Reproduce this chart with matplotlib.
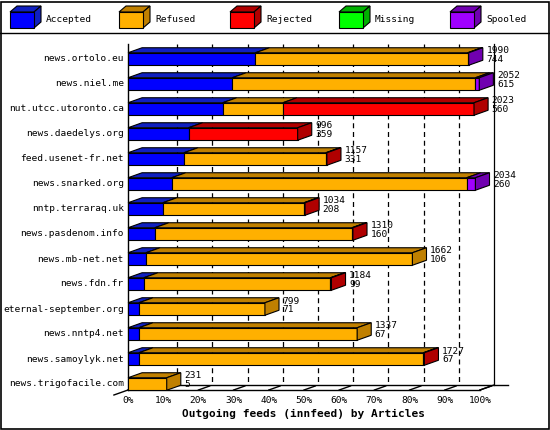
import matplotlib.pyplot as plt
from matplotlib.patches import Polygon, Rectangle

hosts = ["news.ortolo.eu", "news.niel.me", "nut.utcc.utoronto.ca", "news.daedelys.org",
         "feed.usenet-fr.net", "news.snarked.org", "nntp.terraraq.uk", "news.pasdenom.info",
         "news.mb-net.net", "news.fdn.fr", "eternal-september.org", "news.nntp4.net",
         "news.samoylyk.net", "news.trigofacile.com"]
offered = [1990, 2052, 2023, 996, 1157, 2034, 1034, 1310, 1662, 1184, 799, 1337, 1727, 231]
accepted_n = [744, 615, 560, 359, 331, 260, 208, 160, 106, 99, 71, 67, 67, 5]
# segment widths in percent of the scale
accepted = [36.2, 29.6, 26.9, 17.2, 15.9, 12.4, 9.9, 7.6, 5.1, 4.5, 3.1, 3.1, 3.1, 0.0]
refused = [60.3, 69.1, 17.1, 0.0, 40.3, 83.8, 40.1, 56.0, 75.7, 53.0, 35.8, 62.0, 80.8, 11.0]
rejected = [0.0, 0.0, 54.3, 31.0, 0.3, 0.0, 0.3, 0.3, 0.0, 0.3, 0.0, 0.0, 0.3, 0.0]
missing = [0.0] * 14
spooled = [0.3, 1.1, 0.0, 0.0, 0.0, 2.5, 0.0, 0.0, 0.0, 0.0, 0.0, 0.0, 0.0, 0.0]

names = ["Accepted", "Refused", "Rejected", "Missing", "Spooled"]
front = ["#0000ff", "#ffb000", "#ff0000", "#00ff00", "#a000ff"]
dark = ["#1020c0", "#c08000", "#b00000", "#00b000", "#7000b0"]
series = [accepted, refused, rejected, missing, spooled]

W, H = 550, 430
fig = plt.figure(figsize=(5.5, 4.3), dpi=100)
fig.patches.append(Rectangle((1 / W, 1 / H), 1 - 2.5 / W, 1 - 2.5 / H, transform=fig.transFigure,
                             fill=False, ec="black", lw=1.2))
mono = "DejaVu Sans Mono"
fs = 6.8

# legend strip
fig.add_artist(plt.Line2D([0, 1], [1 - 33 / H] * 2, color="black", lw=1))
lx = [10, 119, 230, 339, 450]
for i, nm in enumerate(names):
    x0 = lx[i] / W
    w, h, ox, oy = 24 / W, 16 / H, 7 / W, 6 / H
    yb = 1 - 28 / H
    fig.patches.append(Polygon([(x0, yb + h), (x0 + ox, yb + h + oy), (x0 + w + ox, yb + h + oy), (x0 + w, yb + h)],
                               closed=True, fc=dark[i], ec="black", lw=0.8, transform=fig.transFigure))
    fig.patches.append(Polygon([(x0 + w, yb), (x0 + w + ox, yb + oy), (x0 + w + ox, yb + h + oy), (x0 + w, yb + h)],
                               closed=True, fc=dark[i], ec="black", lw=0.8, transform=fig.transFigure))
    fig.patches.append(Rectangle((x0, yb), w, h, fc=front[i], ec="black", lw=0.8, transform=fig.transFigure))
    fig.text(x0 + 36 / W, 1 - 19 / H, nm, fontsize=fs, family=mono, va="center")

ax = fig.add_axes([128 / W, (H - 390) / H, 352 / W, 360 / H])
ax.set_xlim(0, 100)
ax.set_ylim(13.24, -1.16)
ax.axis("off")

dx, dy = 4.0, -0.2
hh = 0.25
n = len(hosts)

# back wall / grid
ytop_back = -0.6
ybot = 13.24
for p in range(10, 100, 10):
    ax.plot([p + dx, p + dx], [ytop_back, ybot + dy], color="black", lw=0.9, ls=(0, (4, 3)), clip_on=False)
ax.plot([100 + dx, 100 + dx], [ytop_back, ybot + dy], color="black", lw=0.9, clip_on=False)
ax.plot([0, 0], [ytop_back, ybot], color="black", lw=1, clip_on=False)
ax.plot([0, 100], [ybot, ybot], color="black", lw=1, clip_on=False)
ax.plot([0 + dx, 108], [ybot + dy, ybot + dy], color="black", lw=1, clip_on=False)
ax.plot([100, 100 + dx], [ybot, ybot + dy], color="black", lw=1, clip_on=False)
ax.plot([-4, 0], [ybot - dy, ybot], color="black", lw=1, clip_on=False)
for p in range(0, 101, 10):
    ax.plot([p, p + 0.8 * dx], [ybot, ybot + 0.8 * dy], color="black", lw=1, clip_on=False)
    ax.text(p, ybot + 0.25, f"{p}%", ha="center", va="top", fontsize=fs, family=mono)
ax.text(50, ybot + 0.75, "Outgoing feeds (innfeed) by Articles", ha="center", va="top",
        fontsize=8, family=mono, weight="bold")

for r in range(n):
    yt, yb = r - hh, r + hh
    left = 0.0
    last = 0
    for k, s in enumerate(series):
        w = s[r]
        if w <= 0:
            continue
        ax.barh(r, w, left=left, height=2 * hh, color=front[k], edgecolor="black", lw=0.8, zorder=3)
        ax.add_patch(Polygon([(left, yt), (left + w, yt), (left + w + dx, yt + dy), (left + dx, yt + dy)],
                             closed=True, fc=dark[k], ec="black", lw=0.8, zorder=2, clip_on=False))
        left += w
        last = k
    ax.add_patch(Polygon([(left, yt), (left, yb), (left + dx, yb + dy), (left + dx, yt + dy)],
                         closed=True, fc=dark[last], ec="black", lw=0.8, zorder=4, clip_on=False))
    ax.text(left + dx + 1.0, yt + dy - 0.05, f"{offered[r]}\n{accepted_n[r]}", fontsize=fs,
            family=mono, va="top", ha="left", linespacing=0.95, zorder=5)
    ax.text(-1.2, r, hosts[r], fontsize=fs, family=mono, ha="right", va="center")

fig.savefig("out.png", dpi=100)
